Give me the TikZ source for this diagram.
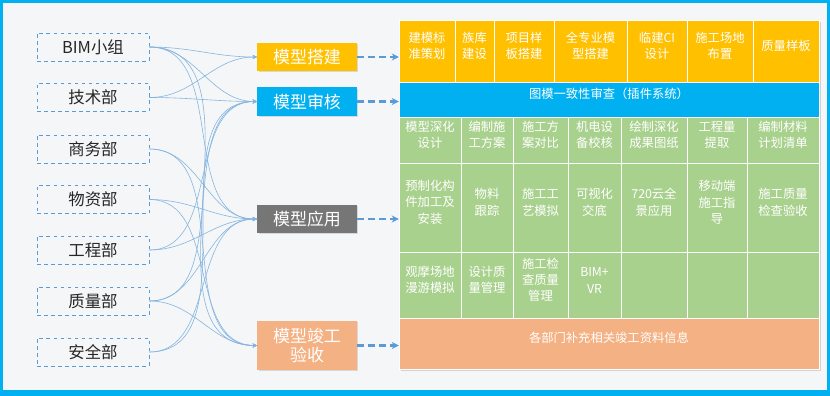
\documentclass[tikz,border=0pt]{standalone}
\usepackage{fontspec}
\setmainfont{Noto Sans CJK SC}
\usepackage{xcolor}
\usetikzlibrary{arrows.meta,positioning,fit,shadows}
\definecolor{frameblue}{HTML}{00B0F0}
\definecolor{linkblue}{HTML}{5B9BD5}
\definecolor{bgpale}{HTML}{F5F6F8}
\definecolor{buildyellow}{HTML}{FFC000}
\definecolor{checkblue}{HTML}{00B0F0}
\definecolor{usegreen}{HTML}{A9D18E}
\definecolor{doneorange}{HTML}{F4B183}
\definecolor{usegrey}{HTML}{767676}

\begin{document}
\begin{tikzpicture}[x=0.03cm, y=-0.03cm,
    dept/.style={draw=linkblue, dashed, line width=0.7pt, minimum width=3.36cm, minimum height=0.84cm, font=\fontsize{14}{16}\selectfont, text=black!85},
    stage/.style={minimum width=2.97cm, minimum height=0.84cm, text=white, align=center, font=\fontsize{14.5}{17}\selectfont, drop shadow={opacity=0.25, shadow xshift=1.2pt, shadow yshift=-1.2pt}},
    cell/.style={draw=white, line width=0.7pt, inner sep=0pt, text=white, align=center, font=\fontsize{10.5}{13.8}\selectfont},
    link/.style={-{Stealth[length=4pt,width=3.5pt]}, linkblue!75, line width=0.5pt},
    feed/.style={-{Stealth[length=6pt,width=6pt]}, dash pattern=on 6pt off 3.5pt, line width=2.2pt, linkblue}
]
\useasboundingbox (0,0) rectangle (830,396);
% frame and background
\fill[frameblue] (0,0) rectangle (830,396);
\fill[bgpale] (3,3) rectangle (827,390);

% departments
\node[dept] (d1) at (93,47) {BIM小组};
\node[dept] (d2) at (93,97.5) {技术部};
\node[dept] (d3) at (93,149) {商务部};
\node[dept] (d4) at (93,199.5) {物资部};
\node[dept] (d5) at (93,250) {工程部};
\node[dept] (d6) at (93,301) {质量部};
\node[dept] (d7) at (93,352) {安全部};

% stages
\node[stage, fill=buildyellow] (s1) at (307,57) {模型搭建};
\node[stage, fill=checkblue] (s2) at (307,101.5) {模型审核};
\node[stage, fill=usegrey] (s3) at (307,219) {模型应用};
\node[stage, fill=doneorange, minimum height=1.47cm] (s4) at (307,345.5) {模型竣工\\验收};

% department to stage links
\foreach \a/\b in {d1/s1, d1/s2, d1/s3, d1/s4, d2/s1, d2/s2, d3/s3, d3/s4, d4/s3, d4/s4,
                   d5/s2, d5/s3, d6/s2, d6/s3, d6/s4, d7/s2, d7/s3}
  \draw[link] (\a.east) to[out=0, in=180] (\b.west);

% task panel
\node[fill=white, inner sep=0pt, drop shadow={opacity=0.3, shadow xshift=1.5pt, shadow yshift=-1.5pt}, fit={(399,20)(819,369)}] (pnl) {};

\foreach \xa/\xb/\txt [count=\i] in {399/455/{建模标\\准策划}, 455/494/{族库\\建设}, 494/554/{项目样\\板搭建},
    554/627/{全专业模\\型搭建}, 627/687/{临建CI\\设计}, 687/753/{施工场地\\布置}, 753/819/{质量样板}}
  \node[cell, fill=buildyellow, fit={(\xa,20)(\xb,82)}] (y\i) {\txt};

\node[cell, fill=checkblue, fit={(399,82)(819,117)}] (chk) {图模一致性审查（插件系统）};

\foreach \xa/\xb/\txt [count=\i] in {399/461/{模型深化\\设计}, 461/513/{编制施\\工方案}, 513/568/{施工方\\案对比},
    568/621/{机电设\\备校核}, 621/687/{绘制深化\\成果图纸}, 687/747/{工程量\\提取}, 747/819/{编制材料\\计划清单}}
  \node[cell, fill=usegreen, fit={(\xa,117)(\xb,163)}] (ga\i) {\txt};

\foreach \xa/\xb/\txt [count=\i] in {399/461/{预制化构\\件加工及\\安装}, 461/513/{物料\\跟踪}, 513/568/{施工工\\艺模拟},
    568/621/{可视化\\交底}, 621/687/{720云全\\景应用}, 687/747/{移动端\\施工指\\导}, 747/819/{施工质量\\检查验收}}
  \node[cell, fill=usegreen, fit={(\xa,163)(\xb,252)}] (gb\i) {\txt};

\foreach \xa/\xb/\txt [count=\i] in {399/461/{观摩场地\\漫游模拟}, 461/513/{设计质\\量管理}, 513/568/{施工检\\查质量\\管理},
    568/621/{BIM+\\VR}, 621/687/{}, 687/747/{}, 747/819/{}}
  \node[cell, fill=usegreen, fit={(\xa,252)(\xb,318)}] (gc\i) {\txt};

\node[cell, fill=doneorange, fit={(399,318)(819,369)}] (done) {各部门补充相关竣工资料信息};

% stage to panel
\foreach \s in {s1,s2,s3,s4}
  \draw[feed] (\s.east) -- (\s.east -| pnl.west);
\end{tikzpicture}
\end{document}
